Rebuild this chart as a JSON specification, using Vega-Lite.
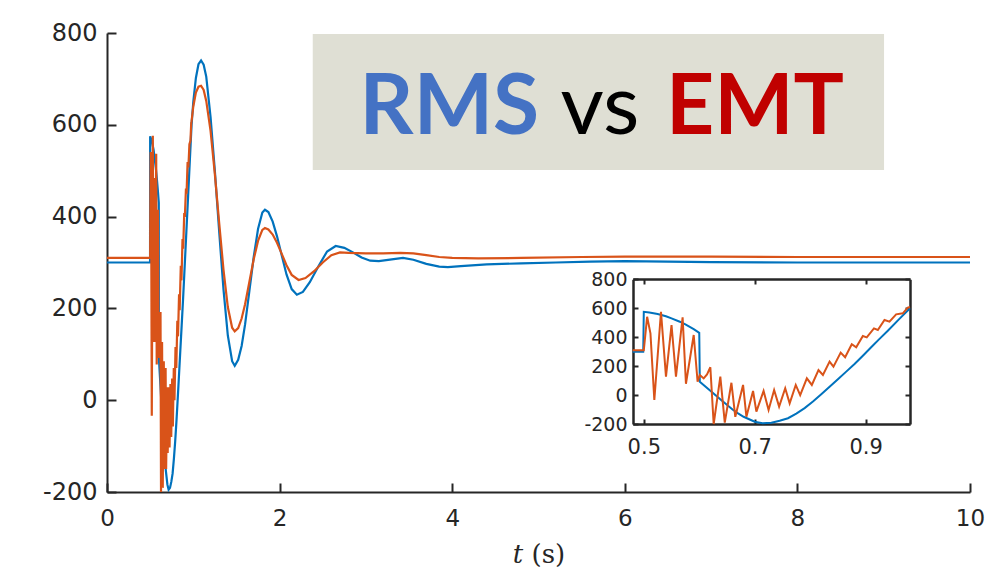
{
  "$schema": "https://vega.github.io/schema/vega-lite/v6.json",
  "width": 863,
  "height": 459,
  "autosize": {"type": "none"},
  "padding": {"left": 107, "top": 33, "right": 29, "bottom": 85},
  "background": "white",
  "config": {
    "view": {"stroke": null},
    "axis": {
      "grid": false,
      "labelFlush": false,
      "labelOverlap": false,
      "domainColor": "#262626",
      "tickColor": "#262626",
      "labelColor": "#262626",
      "titleColor": "#262626",
      "labelFont": "DejaVu Sans"
    }
  },
  "datasets": {
    "series": [
      {"s": "RMS", "t": 0, "v": 300},
      {"s": "RMS", "t": 0.48, "v": 300},
      {"s": "RMS", "t": 0.499, "v": 300},
      {"s": "RMS", "t": 0.5, "v": 575},
      {"s": "RMS", "t": 0.51, "v": 570},
      {"s": "RMS", "t": 0.525, "v": 560},
      {"s": "RMS", "t": 0.54, "v": 545},
      {"s": "RMS", "t": 0.55, "v": 530},
      {"s": "RMS", "t": 0.565, "v": 507},
      {"s": "RMS", "t": 0.575, "v": 488},
      {"s": "RMS", "t": 0.59, "v": 455},
      {"s": "RMS", "t": 0.6, "v": 430},
      {"s": "RMS", "t": 0.601, "v": 92},
      {"s": "RMS", "t": 0.62, "v": 30},
      {"s": "RMS", "t": 0.63, "v": -3},
      {"s": "RMS", "t": 0.64, "v": -36},
      {"s": "RMS", "t": 0.66, "v": -100},
      {"s": "RMS", "t": 0.67, "v": -126},
      {"s": "RMS", "t": 0.68, "v": -150},
      {"s": "RMS", "t": 0.7, "v": -184},
      {"s": "RMS", "t": 0.714, "v": -195},
      {"s": "RMS", "t": 0.73, "v": -191},
      {"s": "RMS", "t": 0.745, "v": -178},
      {"s": "RMS", "t": 0.76, "v": -160},
      {"s": "RMS", "t": 0.775, "v": -128},
      {"s": "RMS", "t": 0.79, "v": -90},
      {"s": "RMS", "t": 0.805, "v": -45},
      {"s": "RMS", "t": 0.82, "v": 5},
      {"s": "RMS", "t": 0.835, "v": 57},
      {"s": "RMS", "t": 0.85, "v": 110},
      {"s": "RMS", "t": 0.865, "v": 162},
      {"s": "RMS", "t": 0.88, "v": 215},
      {"s": "RMS", "t": 0.895, "v": 272},
      {"s": "RMS", "t": 0.91, "v": 330},
      {"s": "RMS", "t": 0.925, "v": 388},
      {"s": "RMS", "t": 0.94, "v": 445},
      {"s": "RMS", "t": 0.96, "v": 523},
      {"s": "RMS", "t": 0.98, "v": 600},
      {"s": "RMS", "t": 1.0, "v": 650},
      {"s": "RMS", "t": 1.03, "v": 702},
      {"s": "RMS", "t": 1.06, "v": 732},
      {"s": "RMS", "t": 1.09, "v": 740},
      {"s": "RMS", "t": 1.12, "v": 731},
      {"s": "RMS", "t": 1.15, "v": 705},
      {"s": "RMS", "t": 1.2, "v": 617},
      {"s": "RMS", "t": 1.25, "v": 499},
      {"s": "RMS", "t": 1.3, "v": 367},
      {"s": "RMS", "t": 1.35, "v": 241},
      {"s": "RMS", "t": 1.4, "v": 141},
      {"s": "RMS", "t": 1.45, "v": 85},
      {"s": "RMS", "t": 1.48, "v": 75},
      {"s": "RMS", "t": 1.52, "v": 88},
      {"s": "RMS", "t": 1.56, "v": 118},
      {"s": "RMS", "t": 1.6, "v": 165},
      {"s": "RMS", "t": 1.65, "v": 238},
      {"s": "RMS", "t": 1.7, "v": 312},
      {"s": "RMS", "t": 1.75, "v": 373},
      {"s": "RMS", "t": 1.8, "v": 409},
      {"s": "RMS", "t": 1.83, "v": 415},
      {"s": "RMS", "t": 1.87, "v": 410},
      {"s": "RMS", "t": 1.92, "v": 389},
      {"s": "RMS", "t": 1.97, "v": 357},
      {"s": "RMS", "t": 2.02, "v": 319},
      {"s": "RMS", "t": 2.08, "v": 274},
      {"s": "RMS", "t": 2.14, "v": 242},
      {"s": "RMS", "t": 2.2, "v": 230},
      {"s": "RMS", "t": 2.27, "v": 236},
      {"s": "RMS", "t": 2.35, "v": 257},
      {"s": "RMS", "t": 2.45, "v": 292},
      {"s": "RMS", "t": 2.55, "v": 324},
      {"s": "RMS", "t": 2.65, "v": 336},
      {"s": "RMS", "t": 2.75, "v": 332},
      {"s": "RMS", "t": 2.85, "v": 322},
      {"s": "RMS", "t": 2.95, "v": 311},
      {"s": "RMS", "t": 3.05, "v": 304},
      {"s": "RMS", "t": 3.15, "v": 303},
      {"s": "RMS", "t": 3.3, "v": 307},
      {"s": "RMS", "t": 3.43, "v": 310},
      {"s": "RMS", "t": 3.55, "v": 306},
      {"s": "RMS", "t": 3.7, "v": 297},
      {"s": "RMS", "t": 3.85, "v": 291},
      {"s": "RMS", "t": 3.95, "v": 290},
      {"s": "RMS", "t": 4.1, "v": 292},
      {"s": "RMS", "t": 4.4, "v": 296},
      {"s": "RMS", "t": 4.8, "v": 298},
      {"s": "RMS", "t": 5.2, "v": 300},
      {"s": "RMS", "t": 5.6, "v": 302},
      {"s": "RMS", "t": 6.0, "v": 303},
      {"s": "RMS", "t": 6.5, "v": 302},
      {"s": "RMS", "t": 7, "v": 301},
      {"s": "RMS", "t": 8, "v": 300},
      {"s": "RMS", "t": 9, "v": 300},
      {"s": "RMS", "t": 10, "v": 300},
      {"s": "EMT", "t": 0, "v": 310},
      {"s": "EMT", "t": 0.48, "v": 310},
      {"s": "EMT", "t": 0.5, "v": 310},
      {"s": "EMT", "t": 0.506, "v": 541},
      {"s": "EMT", "t": 0.512, "v": 427},
      {"s": "EMT", "t": 0.519, "v": -34},
      {"s": "EMT", "t": 0.531, "v": 576},
      {"s": "EMT", "t": 0.54, "v": 127},
      {"s": "EMT", "t": 0.55, "v": 484},
      {"s": "EMT", "t": 0.558, "v": 127},
      {"s": "EMT", "t": 0.57, "v": 537},
      {"s": "EMT", "t": 0.576, "v": 78},
      {"s": "EMT", "t": 0.59, "v": 415},
      {"s": "EMT", "t": 0.597, "v": 92},
      {"s": "EMT", "t": 0.601, "v": 139},
      {"s": "EMT", "t": 0.608, "v": 115},
      {"s": "EMT", "t": 0.614, "v": 142},
      {"s": "EMT", "t": 0.62, "v": 192},
      {"s": "EMT", "t": 0.626, "v": -200},
      {"s": "EMT", "t": 0.638, "v": 127},
      {"s": "EMT", "t": 0.646, "v": -191},
      {"s": "EMT", "t": 0.658, "v": 85},
      {"s": "EMT", "t": 0.665, "v": -150},
      {"s": "EMT", "t": 0.679, "v": 70},
      {"s": "EMT", "t": 0.685, "v": -150},
      {"s": "EMT", "t": 0.697, "v": 28},
      {"s": "EMT", "t": 0.703, "v": -115},
      {"s": "EMT", "t": 0.716, "v": 28},
      {"s": "EMT", "t": 0.725, "v": -103},
      {"s": "EMT", "t": 0.735, "v": 35},
      {"s": "EMT", "t": 0.744, "v": -80},
      {"s": "EMT", "t": 0.755, "v": 47},
      {"s": "EMT", "t": 0.763, "v": -57},
      {"s": "EMT", "t": 0.774, "v": 70},
      {"s": "EMT", "t": 0.782, "v": 0},
      {"s": "EMT", "t": 0.794, "v": 116},
      {"s": "EMT", "t": 0.803, "v": 70},
      {"s": "EMT", "t": 0.815, "v": 173},
      {"s": "EMT", "t": 0.823, "v": 139},
      {"s": "EMT", "t": 0.835, "v": 231},
      {"s": "EMT", "t": 0.842, "v": 196},
      {"s": "EMT", "t": 0.855, "v": 293},
      {"s": "EMT", "t": 0.863, "v": 261},
      {"s": "EMT", "t": 0.875, "v": 351},
      {"s": "EMT", "t": 0.883, "v": 330},
      {"s": "EMT", "t": 0.895, "v": 408},
      {"s": "EMT", "t": 0.902, "v": 399},
      {"s": "EMT", "t": 0.915, "v": 461},
      {"s": "EMT", "t": 0.922, "v": 450},
      {"s": "EMT", "t": 0.934, "v": 519},
      {"s": "EMT", "t": 0.943, "v": 507},
      {"s": "EMT", "t": 0.955, "v": 558},
      {"s": "EMT", "t": 0.967, "v": 565},
      {"s": "EMT", "t": 0.976, "v": 604},
      {"s": "EMT", "t": 0.98, "v": 608},
      {"s": "EMT", "t": 1.0, "v": 640},
      {"s": "EMT", "t": 1.03, "v": 670},
      {"s": "EMT", "t": 1.06, "v": 683},
      {"s": "EMT", "t": 1.09, "v": 685},
      {"s": "EMT", "t": 1.12, "v": 676},
      {"s": "EMT", "t": 1.15, "v": 652},
      {"s": "EMT", "t": 1.2, "v": 587},
      {"s": "EMT", "t": 1.25, "v": 492},
      {"s": "EMT", "t": 1.3, "v": 386},
      {"s": "EMT", "t": 1.35, "v": 284},
      {"s": "EMT", "t": 1.4, "v": 203},
      {"s": "EMT", "t": 1.45, "v": 158},
      {"s": "EMT", "t": 1.48, "v": 150},
      {"s": "EMT", "t": 1.52, "v": 157},
      {"s": "EMT", "t": 1.56, "v": 178},
      {"s": "EMT", "t": 1.6, "v": 209},
      {"s": "EMT", "t": 1.65, "v": 258},
      {"s": "EMT", "t": 1.7, "v": 307},
      {"s": "EMT", "t": 1.75, "v": 347},
      {"s": "EMT", "t": 1.8, "v": 371},
      {"s": "EMT", "t": 1.83, "v": 375},
      {"s": "EMT", "t": 1.87, "v": 372},
      {"s": "EMT", "t": 1.92, "v": 361},
      {"s": "EMT", "t": 1.97, "v": 343},
      {"s": "EMT", "t": 2.02, "v": 321},
      {"s": "EMT", "t": 2.08, "v": 294},
      {"s": "EMT", "t": 2.14, "v": 273},
      {"s": "EMT", "t": 2.22, "v": 262},
      {"s": "EMT", "t": 2.3, "v": 266},
      {"s": "EMT", "t": 2.4, "v": 281},
      {"s": "EMT", "t": 2.5, "v": 300},
      {"s": "EMT", "t": 2.6, "v": 316},
      {"s": "EMT", "t": 2.7, "v": 322},
      {"s": "EMT", "t": 2.8, "v": 321},
      {"s": "EMT", "t": 3.0, "v": 320},
      {"s": "EMT", "t": 3.2, "v": 320},
      {"s": "EMT", "t": 3.4, "v": 321},
      {"s": "EMT", "t": 3.55, "v": 320},
      {"s": "EMT", "t": 3.7, "v": 316},
      {"s": "EMT", "t": 3.85, "v": 312},
      {"s": "EMT", "t": 4.0, "v": 310},
      {"s": "EMT", "t": 4.3, "v": 309},
      {"s": "EMT", "t": 4.8, "v": 310},
      {"s": "EMT", "t": 5.5, "v": 312},
      {"s": "EMT", "t": 6.0, "v": 313},
      {"s": "EMT", "t": 7, "v": 313},
      {"s": "EMT", "t": 8, "v": 312},
      {"s": "EMT", "t": 9, "v": 312},
      {"s": "EMT", "t": 10, "v": 312}
    ]
  },
  "layer": [
    {
      "layer": [
        {
          "data": {"name": "series"},
          "transform": [{"filter": "datum.s === 'RMS'"}],
          "mark": {"type": "line", "color": "#0072BD", "strokeWidth": 2.2},
          "encoding": {
            "x": {
              "field": "t", "type": "quantitative",
              "scale": {"domain": [0, 10], "nice": false, "zero": false},
              "axis": {
                "orient": "bottom",
                "values": [0, 2, 4, 6, 8, 10],
                "labelExpr": "'' + datum.value",
                "labelFlush": false,
                "tickSize": -9, "tickWidth": 2, "domainWidth": 2,
                "labelPadding": 24, "labelFontSize": 23,
                "title": "𝑡 (s)", "titleFont": "DejaVu Serif", "titleFontSize": 26,
                "titleFontWeight": "normal", "titlePadding": 11
              }
            },
            "y": {
              "field": "v", "type": "quantitative",
              "scale": {"domain": [-200, 800], "nice": false, "zero": false},
              "axis": {
                "orient": "left",
                "values": [-200, 0, 200, 400, 600, 800],
                "labelExpr": "'' + datum.value",
                "labelFlush": false,
                "tickSize": -9, "tickWidth": 2, "domainWidth": 2,
                "labelPadding": 19, "labelFontSize": 24,
                "title": null
              }
            }
          }
        },
        {
          "data": {"name": "series"},
          "transform": [{"filter": "datum.s === 'EMT'"}],
          "mark": {"type": "line", "color": "#D95319", "strokeWidth": 2.2},
          "encoding": {
            "x": {"field": "t", "type": "quantitative"},
            "y": {"field": "v", "type": "quantitative"}
          }
        },
        {
          "data": {"values": [{}]},
          "mark": {"type": "rect", "color": "#dfdfd4"},
          "encoding": {
            "x": {"datum": 2.384, "type": "quantitative"},
            "x2": {"datum": 9.004},
            "y": {"datum": 797.8, "type": "quantitative"},
            "y2": {"datum": 501.5}
          }
        },
        {
          "data": {"values": [{"word": "RMS"}]},
          "mark": {"type": "text", "font": "Lato", "fontWeight": "bold", "fontSize": 84, "baseline": "alphabetic", "align": "center", "color": "#4472C4"},
          "encoding": {
            "text": {"field": "word"},
            "x": {"datum": 3.967, "type": "quantitative"},
            "y": {"datum": 580, "type": "quantitative"}
          }
        },
        {
          "data": {"values": [{"word": "vs"}]},
          "mark": {"type": "text", "font": "Lato", "fontWeight": "normal", "fontSize": 84, "baseline": "alphabetic", "align": "center", "color": "#000000"},
          "encoding": {
            "text": {"field": "word"},
            "x": {"datum": 5.713, "type": "quantitative"},
            "y": {"datum": 580, "type": "quantitative"}
          }
        },
        {
          "data": {"values": [{"word": "EMT"}]},
          "mark": {"type": "text", "font": "Lato", "fontWeight": "bold", "fontSize": 84, "baseline": "alphabetic", "align": "center", "color": "#C00000"},
          "encoding": {
            "text": {"field": "word"},
            "x": {"datum": 7.508, "type": "quantitative"},
            "y": {"datum": 580, "type": "quantitative"}
          }
        }
      ]
    },
    {
      "data": {"name": "series"},
      "transform": [{"filter": "datum.t >= 0.48 && datum.t <= 0.98"}],
      "layer": [
        {
          "transform": [{"filter": "datum.s === 'RMS'"}],
          "mark": {"type": "line", "color": "#0072BD", "strokeWidth": 2},
          "encoding": {
            "x": {
              "field": "t", "type": "quantitative",
              "scale": {"domain": [0.48, 0.98], "range": [525.7, 803], "nice": false, "zero": false},
              "axis": {
                "orient": "bottom", "offset": -68,
                "values": [0.5, 0.7, 0.9],
                "labelExpr": "'' + datum.value",
                "labelFlush": false,
                "tickSize": -5, "tickWidth": 2, "domainWidth": 2.5,
                "labelPadding": 17, "labelFontSize": 21, "title": null
              }
            },
            "y": {
              "field": "v", "type": "quantitative",
              "scale": {"domain": [-200, 800], "range": [391, 246.3], "nice": false, "zero": false},
              "axis": {
                "orient": "left", "offset": -526,
                "values": [-200, 0, 200, 400, 600, 800],
                "labelExpr": "'' + datum.value",
                "labelFlush": false,
                "tickSize": -5, "tickWidth": 2, "domainWidth": 2.5,
                "labelPadding": 11, "labelFontSize": 19, "title": null
              }
            }
          }
        },
        {
          "transform": [{"filter": "datum.s === 'EMT'"}],
          "mark": {"type": "line", "color": "#D95319", "strokeWidth": 2},
          "encoding": {
            "x": {
              "field": "t", "type": "quantitative",
              "scale": {"domain": [0.48, 0.98], "range": [525.7, 803], "nice": false, "zero": false},
              "axis": {
                "orient": "top", "offset": -246,
                "values": [0.5, 0.7, 0.9],
                "labels": false,
                "tickSize": -5, "tickWidth": 2, "domainWidth": 2.5, "title": null
              }
            },
            "y": {
              "field": "v", "type": "quantitative",
              "scale": {"domain": [-200, 800], "range": [391, 246.3], "nice": false, "zero": false},
              "axis": {
                "orient": "right", "offset": -60,
                "values": [-200, 0, 200, 400, 600, 800],
                "labels": false,
                "tickSize": -5, "tickWidth": 2, "domainWidth": 2.5, "title": null
              }
            }
          }
        }
      ],
      "resolve": {"axis": {"x": "independent", "y": "independent"}}
    }
  ],
  "resolve": {"scale": {"x": "independent", "y": "independent"}}
}
